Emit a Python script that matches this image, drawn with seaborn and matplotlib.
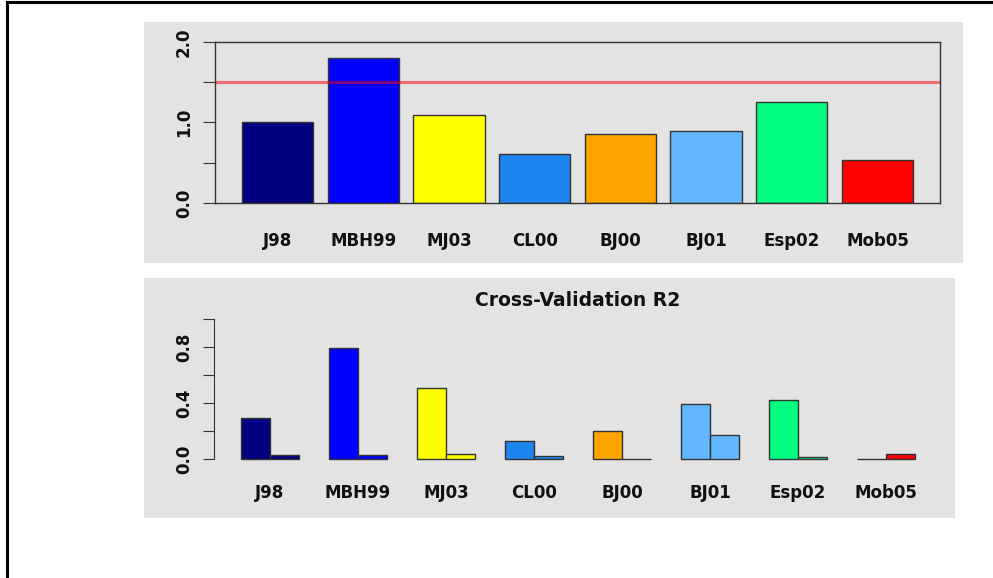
import numpy as np
import pandas as pd
import seaborn as sns
import matplotlib.pyplot as plt
from matplotlib.patches import Rectangle
from matplotlib.lines import Line2D

# values
models = ["J98", "MBH99", "MJ03", "CL00", "BJ00", "BJ01", "Esp02", "Mob05"]
colors = ["#000080", "#0000FF", "#FFFF00", "#1C86EE",
          "#FFA500", "#63B8FF", "#00FF7F", "#FF0000"]
ratio_vals = [1.00, 1.80, 1.09, 0.61, 0.86, 0.90, 1.25, 0.53]
ratio_limit = 1.5
cv_calib = [0.29, 0.79, 0.51, 0.125, 0.20, 0.39, 0.42, 0.0]
cv_verif = [0.03, 0.025, 0.038, 0.02, 0.0, 0.17, 0.015, 0.035]
cv_title = "Cross-Validation R2"

W, H = 993, 578
GRAY = "#e3e3e3"
EDGE = "#333333"

fig = plt.figure(figsize=(W / 100, H / 100), dpi=100)


def fig_rect(x0, y0, x1, y1):
    # pixel box (top-left origin) -> figure fraction [left, bottom, width, height]
    return [x0 / W, 1 - y1 / H, (x1 - x0) / W, (y1 - y0) / H]


# grey panel backgrounds and the black frame lines
for box in [(144, 22, 963, 263), (144, 278, 955, 518)]:
    l, b, w, h = fig_rect(*box)
    fig.add_artist(Rectangle((l, b), w, h, transform=fig.transFigure,
                             facecolor=GRAY, edgecolor="none", zorder=0))
fig.add_artist(Line2D([7 / W, 1], [1 - 1.5 / H, 1 - 1.5 / H], transform=fig.transFigure,
                      color="black", lw=2.2))
fig.add_artist(Line2D([7 / W, 7 / W], [0, 1 - 1.5 / H], transform=fig.transFigure,
                      color="black", lw=2.2))

label_font = dict(fontsize=12, fontweight="bold", color="#111111")

# ---- top panel ----
ax1 = fig.add_axes(fig_rect(215, 42, 940, 203))
ax1.set_facecolor("none")
df_top = pd.DataFrame({"model": models, "value": ratio_vals})
sns.barplot(df_top, x="model", y="value", hue="model", palette=colors,
            saturation=1, width=0.833, edgecolor=EDGE, linewidth=1,
            legend=False, ax=ax1)
ax1.axhline(ratio_limit, color="red", alpha=0.5, lw=2.3)
ax1.set_xlim(-0.73, 7.73)
ax1.set_ylim(0, 2)
ax1.set_yticks([0, 0.5, 1.0, 1.5, 2.0])
ax1.set_yticklabels(["0.0", "", "1.0", "", "2.0"], **label_font)
for sp in ax1.spines.values():
    sp.set_color(EDGE)
    sp.set_linewidth(1)
ax1.tick_params(axis="x", length=0, pad=21)
ax1.tick_params(axis="y", length=9, width=0.8, color=EDGE, pad=7)
ax1.set_xticks(range(len(models)))
ax1.set_xticklabels(models, **label_font)
ax1.set_xlabel("")
ax1.set_ylabel("")

# ---- bottom panel ----
ax2 = fig.add_axes(fig_rect(214, 313, 942, 465))
ax2.set_facecolor("none")
df_cv = pd.DataFrame({
    "model": models * 2,
    "period": ["calib"] * len(models) + ["verif"] * len(models),
    "r2": cv_calib + cv_verif,
})
sns.barplot(df_cv, x="model", y="r2", hue="period", saturation=1,
            width=0.667, edgecolor=EDGE, linewidth=1, legend=False, ax=ax2)
# each model keeps its own colour in both periods
for cont in ax2.containers:
    for bar, c in zip(cont, colors):
        bar.set_facecolor(c)
ax2.set_xlim(-0.636, 7.636)
ax2.set_ylim(-0.043, 1.043)
ax2.set_yticks([0, 0.2, 0.4, 0.6, 0.8, 1.0])
ax2.set_yticklabels(["0.0", "", "0.4", "", "0.8", ""], **label_font)
for side in ["top", "right", "bottom"]:
    ax2.spines[side].set_visible(False)
ax2.spines["left"].set_bounds(0, 1)
ax2.spines["left"].set_color(EDGE)
ax2.tick_params(axis="x", length=0, pad=14)
ax2.tick_params(axis="y", length=8, width=0.8, color=EDGE, pad=7)
ax2.set_xticks(range(len(models)))
ax2.set_xticklabels(models, **label_font)
ax2.set_xlabel("")
ax2.set_ylabel("")
ax2.set_title(cv_title, fontsize=13.5, fontweight="bold", color="#111111", pad=5)

for ax in (ax1, ax2):
    for lbl in ax.get_yticklabels():
        lbl.set_rotation(90)
        lbl.set_va("center")

fig.savefig("out.png", dpi=100)
